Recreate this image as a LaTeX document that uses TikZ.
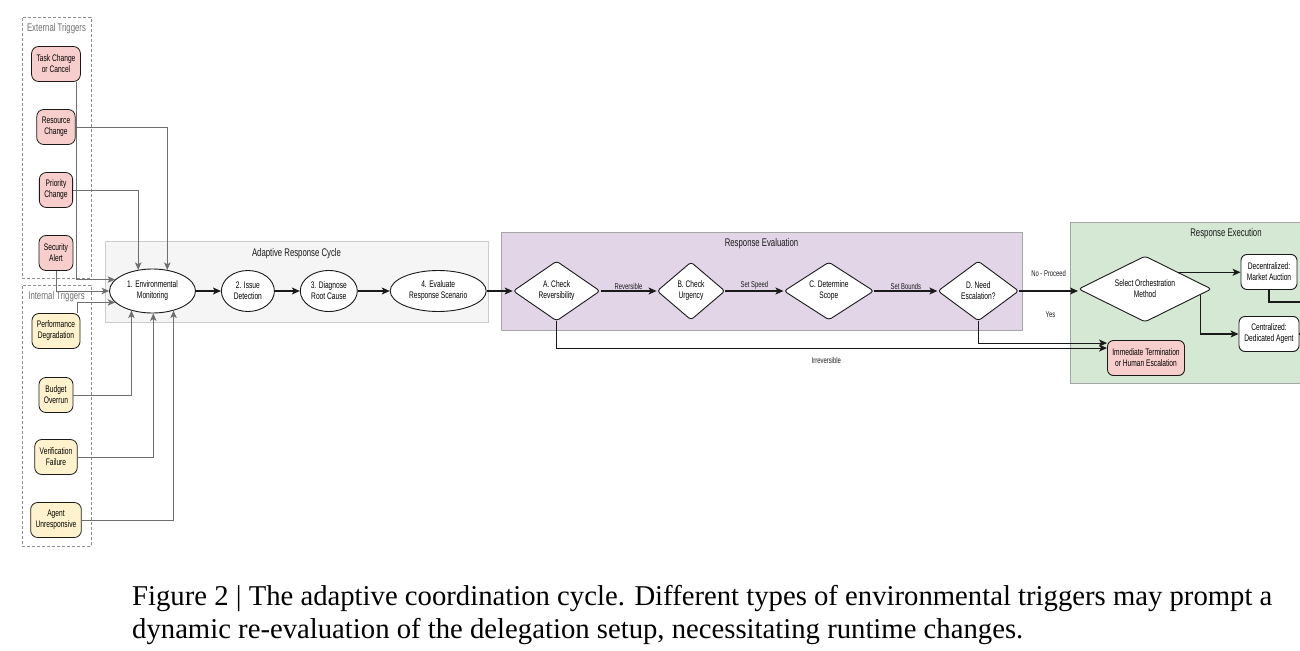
\documentclass[tikz,border=0pt]{standalone}
\usepackage{fontspec}
\usetikzlibrary{shapes, arrows.meta, positioning, calc}
\newfontfamily\adcsans{Liberation Sans}[FakeStretch=0.7]
\newfontfamily\adcserif{Liberation Serif}
\definecolor{adcpink}{HTML}{F8CECC}
\definecolor{adcyellow}{HTML}{FFF2CC}
\definecolor{adcgray}{HTML}{F5F5F5}
\definecolor{adcpurple}{HTML}{E1D5E7}
\definecolor{adcgreen}{HTML}{D5E8D4}
\definecolor{adcline}{HTML}{6E6E6E}
\definecolor{adcblack}{HTML}{1A1A1A}

\begin{document}
\begin{tikzpicture}[
      x=1pt, y=-1pt,
      font=\adcsans\fontsize{9.5}{11}\selectfont,
      grp/.style={rectangle, line width=0.6pt, inner sep=0pt},
      trgbox/.style={rectangle, draw=black!45, dash pattern=on 3pt off 2pt, line width=0.6pt, inner sep=0pt, minimum width=69pt, minimum height=261pt},
      grptitle/.style={font=\adcsans\fontsize{11.1}{13}\selectfont, text=adcblack},
      trig/.style={rectangle, rounded corners=7pt, draw=adcblack, line width=0.8pt, minimum height=35pt, minimum width=33pt, inner xsep=5pt, align=center},
      cyc/.style={ellipse, draw=adcblack, line width=0.9pt, fill=white, inner sep=0pt, minimum height=41pt, align=center},
      dec/.style={diamond, draw=adcblack, line width=0.9pt, fill=white, inner sep=0pt, aspect=1.6, rounded corners=3pt, align=center},
      opt/.style={rectangle, rounded corners=6pt, draw=adcblack, line width=0.9pt, fill=white, minimum height=35pt, inner xsep=4pt, align=center},
      lbl/.style={font=\adcsans\fontsize{8.4}{10}\selectfont, inner sep=1pt},
      flow/.style={-{Stealth[length=8pt, width=7pt, inset=2pt]}, line width=1.1pt, adcblack},
      feed/.style={-{Stealth[length=7.5pt, width=6.5pt, inset=2pt]}, line width=0.8pt, adcline}
    ]
      \useasboundingbox (0,0) rectangle (1300,650);

      % trigger groups
      \node[trgbox] (ExtBox) at (56.5,147.5) {};
      \node[trgbox] (IntBox) at (56.5,415.5) {};
      \node[grptitle, text=adcline, below=3pt of ExtBox.north] {External Triggers};
      \node[grptitle, text=adcline, below=3pt of IntBox.north] {Internal Triggers};

      \foreach \nm/\yy/\txt in {TaskChg/64/{Task Change\\or Cancel}, ResChg/127/{Resource\\Change}, PriChg/190/{Priority\\Change}, SecAlert/253/{Security\\Alert}} {
        \node[trig, fill=adcpink] (\nm) at (56,\yy) {\txt};
      }
      \foreach \nm/\yy/\txt in {PerfDeg/331/{Performance\\Degradation}, BudOver/395/{Budget\\Overrun}, VerFail/457/{Verification\\Failure}, AgtUnr/520/{Agent\\Unresponsive}} {
        \node[trig, fill=adcyellow] (\nm) at (56,\yy) {\txt};
      }

      % adaptive response cycle
      \node[grp, fill=adcgray, draw=black!20, minimum width=383pt, minimum height=81pt] (CycBox) at (296.5,281.5) {};
      \node[grptitle, below=4pt of CycBox.north] {Adaptive Response Cycle};
      \node[cyc, minimum width=86pt, minimum height=44pt] (E1) at (152.5,291) {1. Environmental\\Monitoring};
      \node[cyc, minimum width=53pt, right=25pt of E1] (E2) {2. Issue\\Detection};
      \node[cyc, minimum width=57pt, right=25pt of E2] (E3) {3. Diagnose\\Root Cause};
      \node[cyc, minimum width=96pt, right=32pt of E3] (E4) {4. Evaluate\\Response Scenario};

      % response evaluation
      \node[grp, fill=adcpurple, draw=black!35, minimum width=521pt, minimum height=98pt] (EvalBox) at (761.5,281) {};
      \node[grptitle, below=3pt of EvalBox.north] {Response Evaluation};
      \node[dec, minimum width=87pt, minimum height=60pt, right=26pt of E4] (ChkA) {A. Check\\Reversibility};
      \node[dec, minimum width=68pt, minimum height=58pt, right=56pt of ChkA] (ChkB) {B. Check\\Urgency};
      \node[dec, minimum width=90pt, minimum height=58pt, right=58pt of ChkB] (ChkC) {C. Determine\\Scope};
      \node[dec, minimum width=81pt, minimum height=60pt, right=63pt of ChkC] (ChkD) {D. Need\\Escalation?};

      % response execution
      \node[grp, fill=adcgreen, draw=black!35, minimum width=312pt, minimum height=161pt] (ExecBox) at (1226,302.5) {};
      \node[grptitle, below=3pt of ExecBox.north] {Response Execution};
      \node[dec, aspect=2, minimum width=133pt, minimum height=66pt] (SelOrch) at (1145,289) {Select Orchestration\\Method};
      \node[opt, minimum width=56pt] (Decent) at (1269,272) {Decentralized:\\Market Auction};
      \node[opt, minimum width=60pt] (Cent) at (1269,334) {Centralized:\\Dedicated Agent};
      \node[opt, fill=adcpink, minimum width=77pt] (Immed) at (1146,358) {Immediate Termination\\or Human Escalation};
      \coordinate (selout) at ($(SelOrch.east)!0.17!(SelOrch.south)$);
      \coordinate (decout) at (1320,302);
      \coordinate (centout) at (1320,334);

      % trigger feeds
      \draw[feed] ([xshift=-4pt]TaskChg.south east) |- (E1.163);
      \draw[feed] (ResChg.east) -| (E1.55);
      \draw[feed] (PriChg.east) -| (E1.124);
      \draw[feed] (SecAlert.south) |- (E1.west);
      \draw[feed] ([xshift=-3pt]PerfDeg.north east) |- (E1.197);
      \draw[feed] (BudOver.east) -| (E1.223);
      \draw[feed] (VerFail.east) -| (E1.272);
      \draw[feed] (AgtUnr.east) -| (E1.317);

      % main flow
      \draw[flow] (E1) -- (E2);
      \draw[flow] (E2) -- (E3);
      \draw[flow] (E3) -- (E4);
      \draw[flow] (E4) -- (ChkA);
      \draw[flow] (ChkA) -- node[lbl, above] {Reversible} (ChkB);
      \draw[flow] (ChkB) -- node[lbl, above] {Set Speed} (ChkC);
      \draw[flow] (ChkC) -- node[lbl, above] {Set Bounds} (ChkD);
      \draw[flow] (ChkD.east) -- node[lbl, above=13pt] {No - Proceed} (ChkD.east -| SelOrch.west);
      \draw[flow] (ChkD.south) |- node[lbl, above=24pt, pos=0.78] {Yes} ([yshift=-3pt]Immed.north west);
      \draw[flow] (ChkA.south) |- node[lbl, below=8pt, pos=0.745] {Irreversible} ([yshift=-8pt]Immed.north west);
      \draw[flow] (SelOrch.north east) -- (SelOrch.north east -| Decent.west);
      \draw[flow] (selout) |- (Cent.west);
      \draw[line width=1.1pt, adcblack] (Decent.south) |- (decout);
      \draw[line width=1.1pt, adcblack] (Cent.east) -- (centout);

      % caption
      \node[font=\adcserif\fontsize{28.7}{33}\selectfont, anchor=base west, inner sep=0pt] (Cap1) at (132,605) {Figure 2 | The adaptive coordination cycle. Different types of environmental triggers may prompt a};
      \node[font=\adcserif\fontsize{28.7}{33}\selectfont, anchor=base west, inner sep=0pt] (Cap2) at (132,638) {dynamic re-evaluation of the delegation setup, necessitating runtime changes.};
    \end{tikzpicture}
\end{document}
